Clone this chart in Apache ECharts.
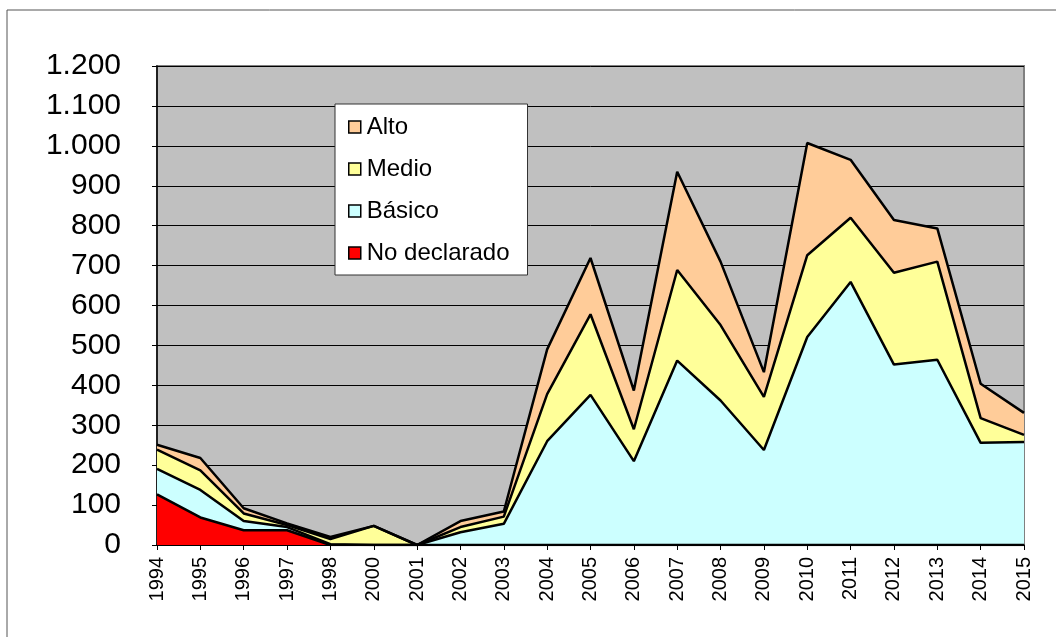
<!DOCTYPE html>
<html>
<head>
<meta charset="utf-8">
<script src="https://cdn.jsdelivr.net/npm/echarts@6/dist/echarts.min.js"></script>
<style>
  html, body { margin: 0; padding: 0; background: #fff; }
  #chart { width: 1056px; height: 637px; }
</style>
</head>
<body>
<div id="chart"></div>
<script>
// años (no hay 1999)
const years = ['1994', '1995', '1996', '1997', '1998', '2000', '2001', '2002', '2003', '2004', '2005',
  '2006', '2007', '2008', '2009', '2010', '2011', '2012', '2013', '2014', '2015'];

// valores por nivel (apilados)
const noDeclarado = [127, 69, 37, 37, 0, 0, 0, 0, 0, 0, 0, 0, 0, 0, 0, 0, 0, 0, 0, 0, 0];
const basico = [64, 69, 23, 8, 2, 0, 0, 32, 53, 260, 376, 210, 462, 362, 238, 521, 659, 452, 464, 256, 258];
const medio = [48, 49, 19, 5, 13, 48, 0, 13, 18, 118, 202, 80, 227, 189, 133, 205, 161, 230, 246, 62, 18];
const alto = [12, 31, 13, 4, 5, 0, 0, 15, 13, 112, 141, 97, 246, 159, 62, 281, 145, 132, 83, 86, 55];

const legendOrder = ['Alto', 'Medio', 'Básico', 'No declarado'];

const chart = echarts.init(document.getElementById('chart'));

function areaSerie(name, data, color) {
  return {
    name: name,
    type: 'line',
    stack: 'total',
    data: data,
    symbol: 'none',
    lineStyle: { color: '#000', width: 2.5 },
    areaStyle: { color: color, opacity: 1 },
    itemStyle: { color: color, borderColor: '#000', borderWidth: 1.5 },
    emphasis: { disabled: true }
  };
}

const option = {
  animation: false,
  textStyle: { fontFamily: 'Liberation Sans, Arial, sans-serif', color: '#000' },
  graphic: [{
    type: 'rect',
    shape: { x: 7, y: 10, width: 1070, height: 650 },
    style: { fill: 'none', stroke: '#555', lineWidth: 1 },
    z: -10
  }],
  grid: {
    left: 157, right: 32, top: 66, bottom: 92,
    show: true,
    backgroundColor: '#C0C0C0',
    borderColor: '#808080',
    borderWidth: 2
  },
  legend: {
    data: legendOrder.map(n => ({
      name: n,
      icon: 'rect',
      itemStyle: { borderColor: '#000', borderWidth: 1.5 }
    })),
    orient: 'vertical',
    left: 335,
    top: 104,
    padding: [11, 18, 10, 13],
    itemGap: 18,
    itemWidth: 12,
    itemHeight: 12,
    backgroundColor: '#fff',
    borderColor: '#333',
    borderWidth: 1,
    lineStyle: { width: 0, opacity: 0 },
    itemStyle: { borderColor: '#000', borderWidth: 1.5 },
    textStyle: { fontSize: 24, color: '#000', padding: [0, 0, 0, 1] }
  },
  xAxis: {
    type: 'category',
    data: years,
    boundaryGap: false,
    axisLine: { lineStyle: { color: '#000', width: 1.5 } },
    axisTick: { show: true, length: 5, alignWithLabel: true, interval: 0, lineStyle: { color: '#000' } },
    axisLabel: { rotate: 90, interval: 0, fontSize: 20, margin: 12, color: '#000' },
    splitLine: { show: false }
  },
  yAxis: {
    type: 'value',
    min: 0,
    max: 1200,
    interval: 100,
    axisLine: { show: true, lineStyle: { color: '#000', width: 1.5 } },
    axisTick: { show: true, length: 5, lineStyle: { color: '#000' } },
    axisLabel: {
      fontSize: 30,
      margin: 36,
      color: '#000',
      formatter: v => String(v).replace(/\B(?=(\d{3})+(?!\d))/g, '.')
    },
    splitLine: { show: true, lineStyle: { color: '#000', width: 1 } }
  },
  series: [
    areaSerie('No declarado', noDeclarado, '#FF0000'),
    areaSerie('Básico', basico, '#CCFFFF'),
    areaSerie('Medio', medio, '#FFFF99'),
    areaSerie('Alto', alto, '#FFCC99')
  ]
};

chart.setOption(option);
</script>
</body>
</html>
